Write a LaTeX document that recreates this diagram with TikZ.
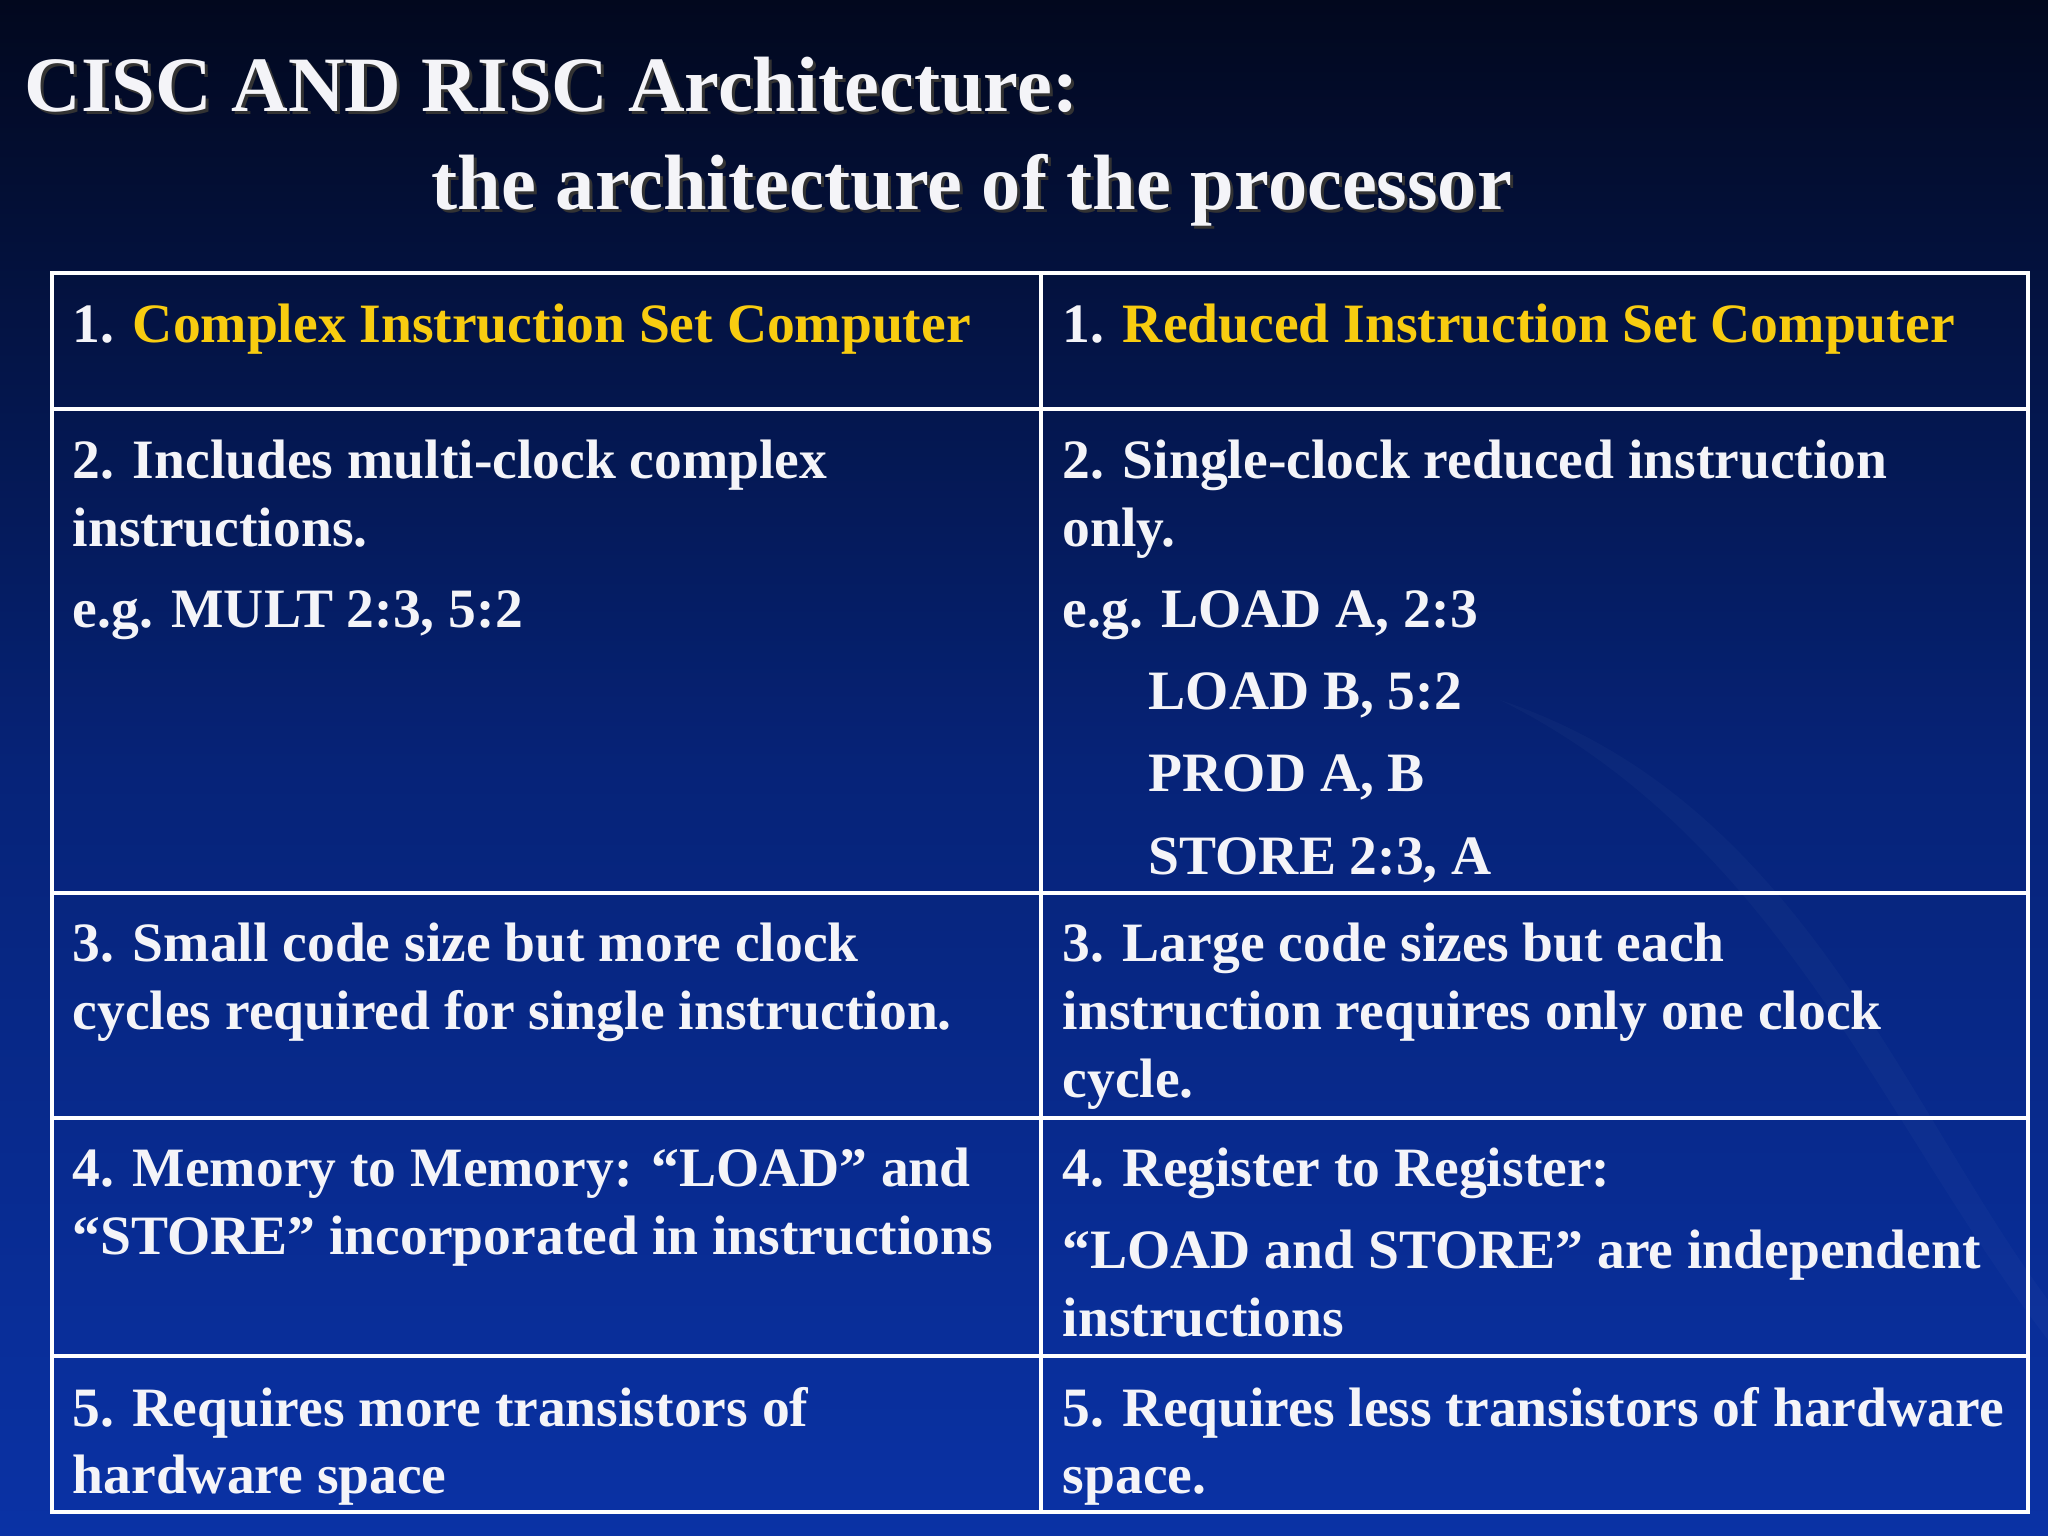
\documentclass[tikz,border=0pt]{standalone}
\usepackage{fontspec}
\setmainfont{Liberation Serif}
\definecolor{ylw}{HTML}{F8CC10}
\definecolor{txt}{HTML}{F4F4F8}
\begin{document}
\begin{tikzpicture}[x=0.01cm,y=-0.01cm,
  body/.style={anchor=base west,inner sep=0,text=txt,font=\fontsize{15.8}{20}\selectfont\bfseries},
  ttl/.style={anchor=base west,inner sep=0,text=txt,font=\fontsize{22.3}{26}\selectfont\bfseries},
  shd/.style={anchor=base west,inner sep=0,text=black!80,font=\fontsize{22.3}{26}\selectfont\bfseries},
  grid/.style={draw=white,line width=1.4pt}]
\shade[top color={rgb,255:red,2;green,8;blue,30},bottom color={rgb,255:red,10;green,50;blue,165},middle color={rgb,255:red,6;green,35;blue,120}] (0,0) rectangle (2048,1536);
\fill[white,opacity=0.025] (1500,700) .. controls (1800,800) and (1900,1100) .. (2048,1300) -- (2048,1340) .. controls (1880,1120) and (1780,840) .. (1500,700);
\useasboundingbox (0,0) rectangle (2048,1536);
% title
\node[shd] (s1) at (27,114) {CISC AND RISC Architecture:};
\node[ttl] (t1) at (24,111) {CISC AND RISC Architecture:};
\node[shd] (s2) at (434,212) {the architecture of the processor};
\node[ttl] (t2) at (431,209) {the architecture of the processor};
% table
\draw[grid] (52,273) rectangle (2028,1512);
\draw[grid] (1041,273) -- (1041,1512);
\foreach \yy in {409,893,1118,1356} \draw[grid] (52,\yy) -- (2028,\yy);
% row 1
\node[body] (a1) at (72,342) {1. \textcolor{ylw}{Complex Instruction Set Computer}};
\node[body] (b1) at (1062,342) {1. \textcolor{ylw}{Reduced Instruction Set Computer}};
% row 2
\node[body] (a2) at (72,478) {2. Includes multi-clock complex};
\node[body] (a3) at (72,546) {instructions.};
\node[body] (a4) at (72,627) {e.g. MULT 2:3, 5:2};
\node[body] (b2) at (1062,478) {2. Single-clock reduced instruction};
\node[body] (b3) at (1062,546) {only.};
\node[body] (b4) at (1062,627) {e.g. LOAD A, 2:3};
\node[body] (b5) at (1148,709) {LOAD B, 5:2};
\node[body] (b6) at (1148,791) {PROD A, B};
\node[body] (b7) at (1148,874) {STORE 2:3, A};
% row 3
\node[body] (a5) at (72,961) {3. Small code size but more clock};
\node[body] (a6) at (72,1029) {cycles required for single instruction.};
\node[body] (b8) at (1062,961) {3. Large code sizes but each};
\node[body] (b9) at (1062,1029) {instruction requires only one clock};
\node[body] (b10) at (1062,1097) {cycle.};
% row 4
\node[body] (a7) at (72,1186) {4. Memory to Memory: “LOAD” and};
\node[body] (a8) at (72,1254) {“STORE” incorporated in instructions};
\node[body] (b11) at (1062,1186) {4. Register to Register:};
\node[body] (b12) at (1062,1268) {“LOAD and STORE” are independent};
\node[body] (b13) at (1062,1336) {instructions};
% row 5
\node[body] (a9) at (72,1426) {5. Requires more transistors of};
\node[body] (a10) at (72,1493) {hardware space};
\node[body] (b14) at (1062,1426) {5. Requires less transistors of hardware};
\node[body] (b15) at (1062,1493) {space.};
\end{tikzpicture}
\end{document}
